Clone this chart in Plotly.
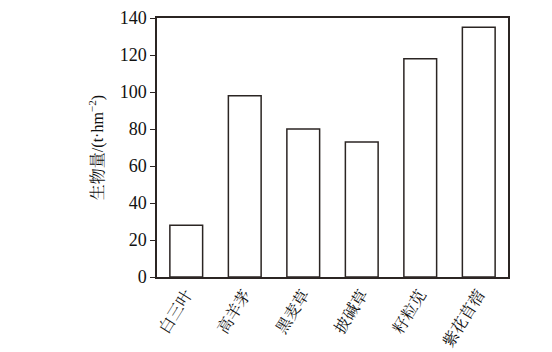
import plotly.graph_objects as go

categories = ["白三叶", "高羊茅", "黑麦草", "披碱草", "籽粒苋", "紫花苜蓿"]
biomass = [28, 98, 80, 73, 118, 135]
y_ticks = [0, 20, 40, 60, 80, 100, 120, 140]

line_col = "#2b2523"
font_fam = "Times New Roman, Liberation Serif, Noto Serif CJK SC, Noto Sans CJK SC, serif"

fig = go.Figure(go.Bar(
    x=categories, y=biomass,
    marker=dict(color="white", line=dict(color=line_col, width=1.5)),
))

fig.update_layout(
    width=552, height=352,
    margin=dict(l=157, r=44, t=18, b=75, autoexpand=False),
    paper_bgcolor="white", plot_bgcolor="white",
    bargap=0.44, showlegend=False,
    font=dict(family=font_fam, size=16, color="#111"),
)
fig.update_xaxes(
    showline=True, linecolor=line_col, linewidth=1.5, mirror=True,
    ticks="", tickangle=-58, tickfont=dict(size=16, family=font_fam),
    showgrid=False, automargin=False,
)
fig.update_yaxes(
    range=[0, 140], tickvals=y_ticks, ticks="outside", ticklen=5,
    tickcolor=line_col, tickwidth=1.2,
    showline=True, linecolor=line_col, linewidth=1.5, mirror=True,
    showgrid=False, zeroline=False, automargin=False,
    tickfont=dict(size=18, family=font_fam),
    title=dict(text="生物量/(t·hm<sup>−2</sup>)", font=dict(size=16, family=font_fam, color="#111"), standoff=12),
)

fig.write_html("out.html")
